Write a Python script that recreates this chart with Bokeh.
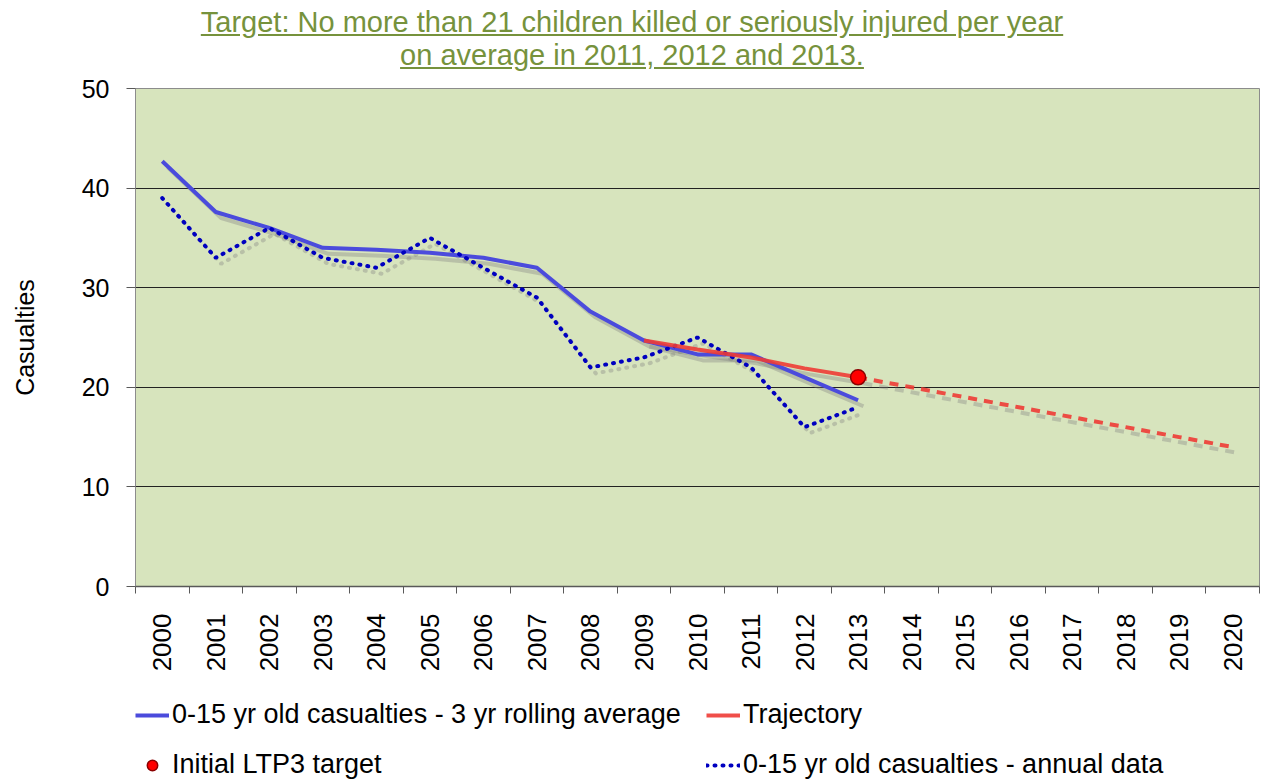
import math
from bokeh.plotting import figure
from bokeh.models import (Range1d, FixedTicker, Legend, LegendItem, Div, ColumnDataSource)
from bokeh.layouts import column
from bokeh.transform import dodge
from bokeh.embed import file_html
from bokeh.resources import INLINE

# ---- data ----
years = list(range(2000, 2021))
rolling_years = list(range(2000, 2014))
rolling_avg = [42.7, 37.6, 36.0, 34.0, 33.8, 33.5, 33.0, 32.0, 27.6, 24.7, 23.3, 23.3, 21.0, 18.7]
annual_years = list(range(2000, 2014))
annual = [39, 33, 36, 33, 32, 35, 32, 29, 22, 23, 25, 22, 16, 18]
traj_years = [2009, 2010, 2011, 2012, 2013]
trajectory = [24.7, 23.8, 23.0, 21.9, 21.0]
proj_years = [2013, 2014, 2015, 2016, 2017, 2018, 2019, 2020]
projection = [21, 20, 19, 18, 17, 16, 15, 14]
target_years = [2013]
target = [21]
y_ticks = [0, 10, 20, 30, 40, 50]
labels = ["0-15 yr old casualties - 3 yr rolling average", "Trajectory",
          "Initial LTP3 target", "0-15 yr old casualties - annual data"]

FONT = "Liberation Sans"
BLUE = "#4B4BDC"
DBLUE = "#0000C0"
RED = "#EE3B35"
W = 1264

title_html = (
    '<div style="text-align:center;width:1264px;padding-top:6px;font-family:\'Liberation Sans\',Arial,sans-serif;'
    'font-size:29px;line-height:33px;color:#76923C;text-decoration:underline;">'
    'Target: No more than 21 children killed or seriously injured per year<br>'
    'on average in 2011, 2012 and 2013.</div>'
)
title_div = Div(text=title_html, width=W, height=72, margin=(0, 0, 0, 0))

p = figure(width=W, height=608, output_backend="svg", toolbar_location=None,
           x_range=Range1d(1999.5, 2020.5), y_range=Range1d(0, 50),
           min_border_left=135, min_border_right=5, min_border_top=16, min_border_bottom=94)
p.background_fill_color = "#D7E4BD"
p.border_fill_color = "white"
p.outline_line_color = "#8C8C8C"
p.xgrid.grid_line_color = None
p.ygrid.ticker = FixedTicker(ticks=[10, 20, 30, 40])
p.ygrid.grid_line_color = "#222222"
p.ygrid.grid_line_width = 1

s_roll = ColumnDataSource(dict(x=rolling_years, y=rolling_avg))
s_ann = ColumnDataSource(dict(x=annual_years, y=annual))
s_traj = ColumnDataSource(dict(x=traj_years, y=trajectory))
s_proj = ColumnDataSource(dict(x=proj_years, y=projection))
s_tgt = ColumnDataSource(dict(x=target_years, y=target))

ROLL = dict(line_color=BLUE, line_width=4)
ANN = dict(line_color=DBLUE, line_width=4, line_dash="1 7", line_cap="round")
TRAJ = dict(line_color=RED, line_width=4, line_alpha=0.9)
TGT = dict(size=15, fill_color="#FF0000", line_color="#8B0000", line_width=1.5)

# shadows
SH = dict(line_color="#7F7F7F", line_alpha=0.35, line_width=4)
sx, sy = dodge("x", 0.1), dodge("y", -0.6)
p.line(sx, sy, source=s_roll, **SH)
p.line(sx, sy, source=s_ann, line_dash="1 7", line_cap="round", **SH)
p.line(sx, sy, source=s_traj, **SH)
p.line(sx, sy, source=s_proj, line_dash="9 7", **SH)

p.line("x", "y", source=s_roll, **ROLL)
p.line("x", "y", source=s_ann, **ANN)
p.line("x", "y", source=s_traj, **TRAJ)
p.line("x", "y", source=s_proj, line_dash="9 7", **TRAJ)
p.scatter("x", "y", source=s_tgt, **TGT)

# axes
xa = p.xaxis[0]
xa.ticker = FixedTicker(ticks=years, minor_ticks=[y - 0.5 for y in years] + [years[-1] + 0.5])
xa.major_tick_line_color = None
xa.major_tick_out = 0
xa.major_tick_in = 0
xa.minor_tick_line_color = "#595959"
xa.minor_tick_in = 0
xa.minor_tick_out = 7
xa.axis_line_color = "#595959"
xa.axis_line_width = 1.5
xa.major_label_orientation = math.pi / 2
xa.major_label_standoff = 20
xa.major_label_text_font = FONT
xa.major_label_text_font_size = "26px"
xa.major_label_text_color = "black"

ya = p.yaxis[0]
ya.ticker = FixedTicker(ticks=y_ticks)
ya.minor_tick_line_color = None
ya.major_tick_in = 0
ya.major_tick_out = 9
ya.major_tick_line_color = "#595959"
ya.axis_line_color = "#8C8C8C"
ya.major_label_standoff = 17
ya.major_label_text_font = FONT
ya.major_label_text_font_size = "25px"
ya.major_label_text_color = "black"
ya.axis_label = "Casualties"
ya.axis_label_text_font = FONT
ya.axis_label_text_font_size = "25px"
ya.axis_label_text_font_style = "normal"
ya.axis_label_text_color = "black"
ya.axis_label_standoff = 40

# ---- legend strip (same series, out of its visible range; only the legend shows) ----
lf = figure(width=W, height=101, output_backend="svg", toolbar_location=None,
            x_axis_location=None, y_axis_location=None,
            x_range=Range1d(0, 1), y_range=Range1d(0, 1),
            min_border_left=0, min_border_right=0, min_border_top=0, min_border_bottom=0)
lf.grid.grid_line_color = None
lf.outline_line_color = None
lf.background_fill_color = "white"
l_roll = lf.line("x", "y", source=s_roll, **ROLL)
l_traj = lf.line("x", "y", source=s_traj, **TRAJ)
l_tgt = lf.scatter("x", "y", source=s_tgt, size=13, fill_color="#FF0000", line_color="#8B0000",
                   line_width=1.5)
l_ann = lf.line("x", "y", source=s_ann, **ANN)

LEG = dict(orientation="vertical", label_text_font=FONT, label_text_font_size="27px",
           label_text_color="black", glyph_width=34, glyph_height=26, label_standoff=3,
           label_height=26, spacing=19, padding=0, margin=0, border_line_color=None,
           background_fill_alpha=0)
leg1 = Legend(items=[LegendItem(label=labels[0], renderers=[l_roll]),
                     LegendItem(label=labels[2], renderers=[l_tgt])],
              location=(0, 1), **LEG)
leg2 = Legend(items=[LegendItem(label=labels[1], renderers=[l_traj]),
                     LegendItem(label=labels[3], renderers=[l_ann])],
              location=(571, 1), **LEG)
lf.add_layout(leg1)
lf.add_layout(leg2)

layout = column(title_div, p, lf, spacing=0)
open("out.html", "w").write(file_html(layout, INLINE))
